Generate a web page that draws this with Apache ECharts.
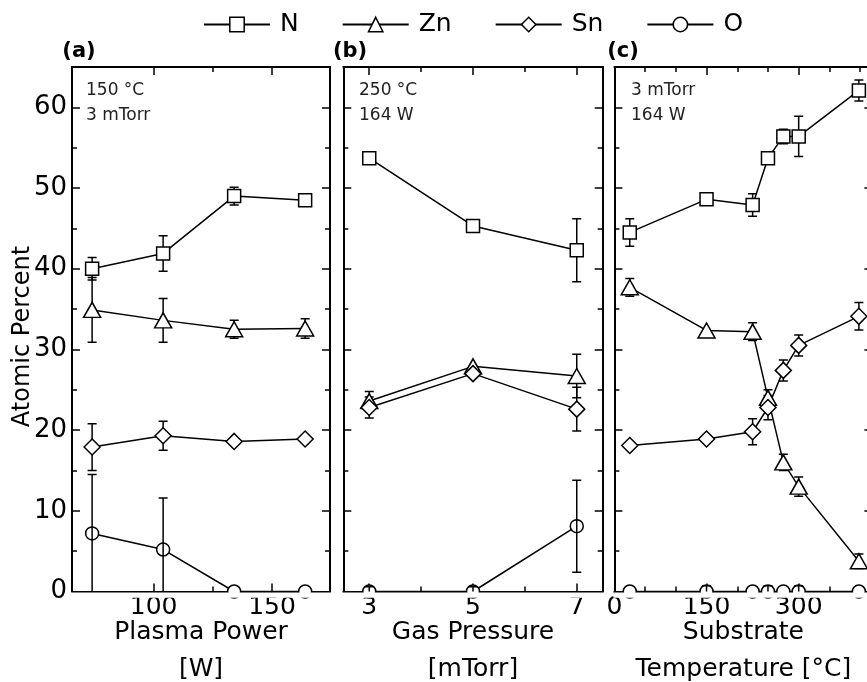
<!DOCTYPE html>
<html><head><meta charset="utf-8">
<script src="https://cdn.jsdelivr.net/npm/echarts@6/dist/echarts.min.js"></script>
<style>html,body{margin:0;padding:0;background:#fff}#c{width:867px;height:682px}</style>
</head><body><div id="c"></div><script>
// ---- data ----
const powerW = [74, 104, 134, 164];
const powerN = [40.0, 41.9, 49.0, 48.5];
const powerNErr = [1.4, 2.2, 1.1, 0];
const powerZn = [34.9, 33.6, 32.5, 32.6];
const powerZnErr = [4.0, 2.7, 1.1, 1.2];
const powerSn = [17.9, 19.3, 18.6, 18.9];
const powerSnErr = [2.9, 1.8, 0, 0];
const powerO = [7.2, 5.2, 0, 0];
const powerOErr = [7.3, 6.4, 0, 0];

const pressureMTorr = [3, 5, 7];
const pressureN = [53.7, 45.3, 42.3];
const pressureNErr = [0, 0, 3.9];
const pressureZn = [23.6, 27.9, 26.7];
const pressureZnErr = [1.2, 0, 2.7];
const pressureSn = [22.8, 27.0, 22.6];
const pressureSnErr = [1.3, 0, 2.7];
const pressureO = [0, 0, 8.1];
const pressureOErr = [0.6, 0.6, 5.7];

const tempC = [25, 150, 225, 250, 275, 300, 398];
const tempN = [44.5, 48.6, 47.9, 53.7, 56.4, 56.4, 62.1];
const tempNErr = [1.7, 0, 1.4, 0, 0.9, 2.5, 1.3];
const tempZn = [37.7, 32.35, 32.2, 24.0, 16.0, 13.0, 3.75];
const tempZnErr = [1.1, 0, 1.1, 1.0, 1.0, 1.2, 0.9];
const tempSn = [18.1, 18.9, 19.8, 22.8, 27.4, 30.5, 34.1];
const tempSnErr = [0, 0, 1.6, 1.5, 1.3, 1.3, 1.7];
const tempO = [0, 0, 0, 0, 0, 0, 0];
const tempOErr = [0, 0.7, 0, 0.7, 0, 0.7, 0];

// ---- ticks / labels ----
const yLabelTicks = [0, 10, 20, 30, 40, 50, 60];
const yMinorTicks = [5, 15, 25, 35, 45, 55];
const powerTicks = [100, 150];
const powerMinor = [125];
const pressureTicks = [3, 5, 7];
const pressureMinor = [4, 6];
const tempTicks = [0, 150, 300];
const tempMinor = [50, 100, 200, 250, 350, 400];

const elementNames = ['N', 'Zn', 'Sn', 'O'];
const FONT = 'DejaVu Sans';

const panels = [
  {x: powerW, ys: [powerN, powerZn, powerSn, powerO], errs: [powerNErr, powerZnErr, powerSnErr, powerOErr],
   min: 65.5, max: 174.5, major: powerTicks, minor: powerMinor, name: 'Plasma Power\n[W]',
   grid: {left: 72, top: 67, width: 258, height: 524.5}, note: '150 °C\n3 mTorr', noteX: 86, tag: '(a)', tagX: 79},
  {x: pressureMTorr, ys: [pressureN, pressureZn, pressureSn, pressureO], errs: [pressureNErr, pressureZnErr, pressureSnErr, pressureOErr],
   min: 2.5, max: 7.5, major: pressureTicks, minor: pressureMinor, name: 'Gas Pressure\n[mTorr]',
   grid: {left: 343.3, top: 67, width: 259.4, height: 524.5}, note: '250 °C\n164 W', noteX: 359, tag: '(b)', tagX: 350},
  {x: tempC, ys: [tempN, tempZn, tempSn, tempO], errs: [tempNErr, tempZnErr, tempSnErr, tempOErr],
   min: 0, max: 420, major: tempTicks, minor: tempMinor, name: 'Substrate\nTemperature [°C]',
   grid: {left: 614.4, top: 67, width: 258, height: 524.5}, note: '3 mTorr\n164 W', noteX: 631, tag: '(c)', tagX: 623}
];

const symbols = [
  {symbol: 'rect', size: [13, 13]},
  {symbol: 'triangle', size: [17, 15]},
  {symbol: 'diamond', size: [16, 16]},
  {symbol: 'circle', size: [13, 13]}
];

const lineBlack = {color: '#000', width: 2};
const tickStyle = {color: '#000', width: 1.5};

const grids = [], xAxes = [], yAxes = [], series = [], graphics = [];

panels.forEach((p, gi) => {
  grids.push(Object.assign({containLabel: false, outerBoundsMode: 'none'}, p.grid));
  const xb = {type: 'value', gridIndex: gi, min: p.min, max: p.max, splitLine: {show: false}};
  xAxes.push(
    Object.assign({}, xb, {position: 'bottom',
      axisLine: {show: true, onZero: false, lineStyle: lineBlack},
      axisTick: {show: true, inside: true, length: 8, customValues: p.major, lineStyle: tickStyle},
      axisLabel: {show: true, customValues: p.major, margin: 3, fontSize: 25, fontFamily: FONT, color: '#000'},
      name: p.name, nameLocation: 'middle', nameGap: 22, nameMoveOverlap: false,
      nameTextStyle: {fontSize: 25, fontFamily: FONT, color: '#000', lineHeight: 37}}),
    Object.assign({}, xb, {position: 'top',
      axisLine: {show: true, onZero: false, lineStyle: lineBlack},
      axisTick: {show: true, inside: true, length: 8, customValues: p.major, lineStyle: tickStyle},
      axisLabel: {show: false}}),
    Object.assign({}, xb, {position: 'bottom',
      axisLine: {show: false, onZero: false},
      axisTick: {show: true, inside: true, length: 5, customValues: p.minor, lineStyle: tickStyle},
      axisLabel: {show: false}}),
    Object.assign({}, xb, {position: 'top',
      axisLine: {show: false, onZero: false},
      axisTick: {show: true, inside: true, length: 5, customValues: p.minor, lineStyle: tickStyle},
      axisLabel: {show: false}})
  );
  const yb = {type: 'value', gridIndex: gi, min: 0, max: 65, splitLine: {show: false}};
  yAxes.push(
    Object.assign({}, yb, {position: 'left',
      axisLine: {show: true, onZero: false, lineStyle: lineBlack},
      axisTick: {show: true, inside: true, length: 8, customValues: yLabelTicks, lineStyle: tickStyle},
      axisLabel: {show: gi === 0, customValues: yLabelTicks, margin: 5, fontSize: 26, fontFamily: FONT, color: '#000'}}),
    Object.assign({}, yb, {position: 'right',
      axisLine: {show: true, onZero: false, lineStyle: lineBlack},
      axisTick: {show: true, inside: true, length: 8, customValues: yLabelTicks, lineStyle: tickStyle},
      axisLabel: {show: false}}),
    Object.assign({}, yb, {position: 'left',
      axisLine: {show: false, onZero: false},
      axisTick: {show: true, inside: true, length: 5, customValues: yMinorTicks, lineStyle: tickStyle},
      axisLabel: {show: false}}),
    Object.assign({}, yb, {position: 'right',
      axisLine: {show: false, onZero: false},
      axisTick: {show: true, inside: true, length: 5, customValues: yMinorTicks, lineStyle: tickStyle},
      axisLabel: {show: false}})
  );

  p.ys.forEach((ys, ei) => {
    const data = p.x.map((x, j) => [x, ys[j]]);
    const errData = p.x.map((x, j) => [x, ys[j], p.errs[ei][j]]);
    series.push({
      type: 'custom', name: elementNames[ei] + '-err', xAxisIndex: gi * 4, yAxisIndex: gi * 4,
      clip: true, silent: true, z: ei === 3 ? 4 : 1,
      encode: {x: 0, y: 1},
      data: errData,
      renderItem: function (params, api) {
        const x = api.value(0), y = api.value(1), e = api.value(2);
        if (!e) return null;
        const p1 = api.coord([x, y + e]);
        const p2 = api.coord([x, y - e]);
        const st = {stroke: '#000', lineWidth: 1.5};
        return {type: 'group', children: [
          {type: 'line', shape: {x1: p1[0], y1: p1[1], x2: p2[0], y2: p2[1]}, style: st},
          {type: 'line', shape: {x1: p1[0] - 4.5, y1: p1[1], x2: p1[0] + 4.5, y2: p1[1]}, style: st},
          {type: 'line', shape: {x1: p2[0] - 4.5, y1: p2[1], x2: p2[0] + 4.5, y2: p2[1]}, style: st}
        ]};
      }
    });
    series.push({
      type: 'line', name: elementNames[ei], xAxisIndex: gi * 4, yAxisIndex: gi * 4,
      data: data, symbol: symbols[ei].symbol, symbolSize: symbols[ei].size, showSymbol: true,
      lineStyle: {color: '#000', width: 1.5},
      itemStyle: {color: '#fff', borderColor: '#000', borderWidth: 1.5},
      emphasis: {disabled: true}, z: 3, clip: true
    });
  });

  // hide the parts of markers below the x axis
  graphics.push({type: 'rect', z: 100, shape: {x: p.grid.left - 1, y: 592.6, width: p.grid.width + 2, height: 5.2}, style: {fill: '#fff'}});
  // condition notes
  graphics.push({type: 'text', z: 101, x: p.noteX, y: 78.2, style: {text: p.note, font: '17px "DejaVu Sans"', fill: '#222', lineHeight: 25, align: 'left', verticalAlign: 'top'}});
  // panel tags
  graphics.push({type: 'text', z: 101, x: p.tagX, y: 52, style: {text: p.tag, font: 'bold 21px "DejaVu Sans"', fill: '#000', align: 'center', verticalAlign: 'middle'}});
});

graphics.push({type: 'text', z: 101, x: 22.5, y: 336.5, rotation: Math.PI / 2,
  style: {text: 'Atomic Percent', font: '24px "DejaVu Sans"', fill: '#000', align: 'center', verticalAlign: 'middle'}});

const chart = echarts.init(document.getElementById('c'), null, {renderer: 'canvas'});
chart.setOption({
  animation: false,
  backgroundColor: '#fff',
  legend: {
    data: elementNames, left: 203, top: 12, padding: 0,
    itemWidth: 66, itemHeight: 18, itemGap: 43,
    textStyle: {fontSize: 25, fontFamily: FONT, color: '#000', padding: [0, 0, 0, 5]},
    itemStyle: {borderWidth: 1.5}, selectedMode: false
  },
  grid: grids,
  xAxis: xAxes,
  yAxis: yAxes,
  series: series,
  graphic: {elements: graphics}
});
</script></body></html>
